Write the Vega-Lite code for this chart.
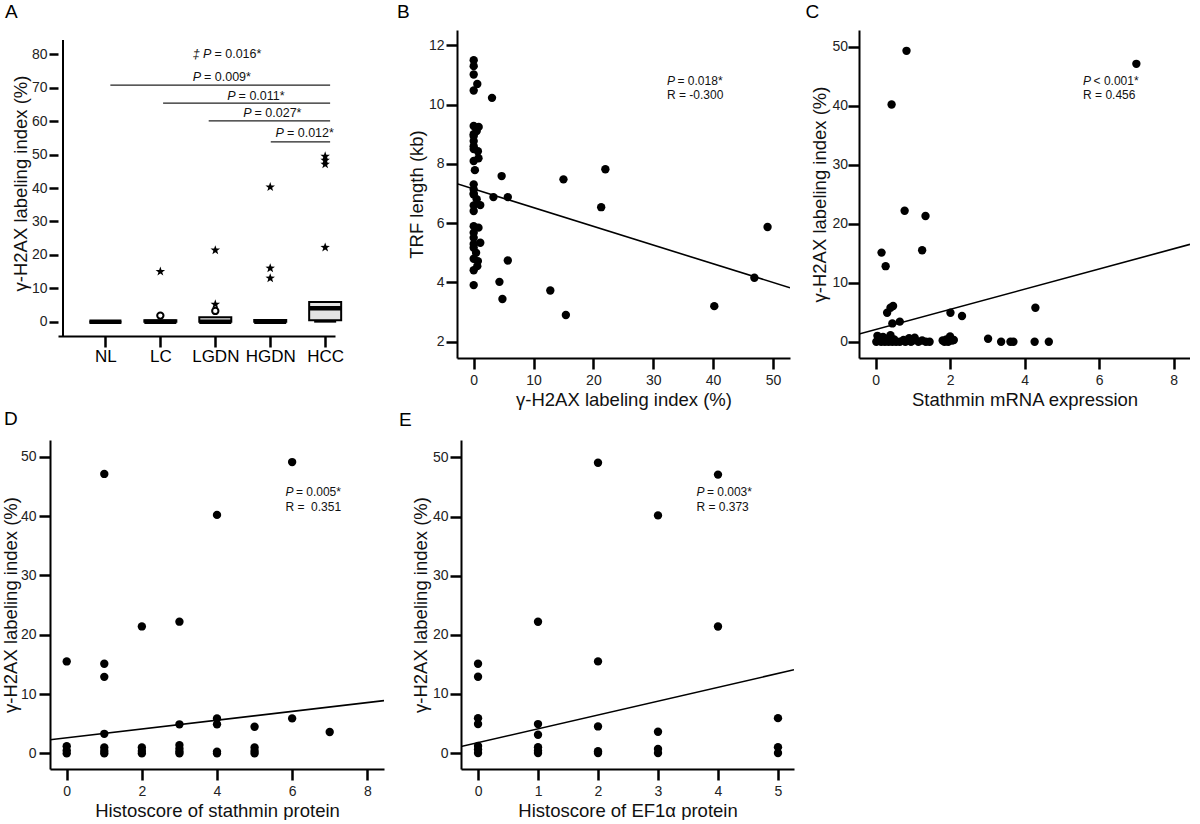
{
  "$schema": "https://vega.github.io/schema/vega-lite/v6.json",
  "background": "white",
  "padding": {"left": 1, "top": 3, "right": 0, "bottom": 0},
  "spacing": 1,
  "config": {
    "font": "Liberation Sans",
    "view": {"stroke": null},
    "axis": {
      "domainColor": "black", "domainWidth": 2,
      "tickColor": "black", "tickWidth": 2.5, "tickSize": 11,
      "labelFont": "Liberation Sans", "labelFontSize": 14, "labelColor": "#222",
      "titleFont": "Liberation Sans", "titleFontSize": 18.5, "titleFontWeight": "normal", "titleColor": "#111",
      "grid": false, "labelOverlap": false, "labelFlush": false
    },
    "axisY": {"labelPadding": 2, "titlePadding": 2},
    "axisX": {"labelPadding": 4, "titlePadding": 3},
    "title": {"anchor": "start", "frame": "group", "fontSize": 19, "fontWeight": "normal", "font": "Liberation Sans", "color": "black", "baseline": "alphabetic"}
  },
  "datasets": {
    "boxA": [
      {"g": 1, "group": "NL", "q1": 0, "med": 0, "q3": 0, "lo": 0, "hi": 0},
      {"g": 2, "group": "LC", "q1": 0, "med": 0, "q3": 0.4, "lo": 0, "hi": 0.5},
      {"g": 3, "group": "LGDN", "q1": 0, "med": 0, "q3": 1.3, "lo": 0, "hi": 1.3},
      {"g": 4, "group": "HGDN", "q1": 0, "med": 0, "q3": 0.5, "lo": 0, "hi": 0.5},
      {"g": 5, "group": "HCC", "q1": 0.4, "med": 4.0, "q3": 5.9, "lo": 0, "hi": 5.9}
    ],
    "outA": [
      {"g": 2, "v": 1.8, "kind": "circle"}, {"g": 2, "v": 15.0, "kind": "star"},
      {"g": 3, "v": 3.2, "kind": "circle"}, {"g": 3, "v": 5.2, "kind": "star"}, {"g": 3, "v": 21.4, "kind": "star"},
      {"g": 4, "v": 13.0, "kind": "star"}, {"g": 4, "v": 16.0, "kind": "star"}, {"g": 4, "v": 40.3, "kind": "star"},
      {"g": 5, "v": 22.2, "kind": "star"}, {"g": 5, "v": 47.1, "kind": "star"}, {"g": 5, "v": 48.3, "kind": "star"}, {"g": 5, "v": 49.5, "kind": "star"}
    ],
    "sigA": [
      {"x": 1.09, "x2": 5.09, "y": 70.8},
      {"x": 2.05, "x2": 5.09, "y": 65.4},
      {"x": 2.88, "x2": 5.09, "y": 60.1},
      {"x": 4.01, "x2": 5.09, "y": 53.8}
    ],
    "annA": [
      {"x": 2.93, "y": 80.1, "p": "‡ P", "t": "= 0.016*"},
      {"x": 2.74, "y": 73.3, "p": "P", "t": "= 0.009*"},
      {"x": 3.37, "y": 67.6, "p": "P", "t": "= 0.011*"},
      {"x": 3.66, "y": 62.6, "p": "P", "t": "= 0.027*"},
      {"x": 4.25, "y": 56.6, "p": "P", "t": "= 0.012*"}
    ],
    "ptsB": [
      {"x": 0, "y": 11.5}, {"x": 0, "y": 11.3}, {"x": 0, "y": 11.02}, {"x": 0.6, "y": 10.7}, {"x": 0, "y": 10.48},
      {"x": 0, "y": 9.28}, {"x": 0.83, "y": 9.25}, {"x": 0.5, "y": 9.11}, {"x": 0, "y": 9.0}, {"x": 0, "y": 8.94}, {"x": 0, "y": 8.77},
      {"x": 0, "y": 8.6}, {"x": 0, "y": 8.5}, {"x": 0.7, "y": 8.43}, {"x": 0.8, "y": 8.19}, {"x": 0, "y": 8.1}, {"x": 0.2, "y": 7.79},
      {"x": 0, "y": 7.31}, {"x": 0, "y": 7.14}, {"x": 0, "y": 7.0}, {"x": 0, "y": 6.97}, {"x": 0.5, "y": 6.81}, {"x": 1.1, "y": 6.61},
      {"x": 0, "y": 6.6}, {"x": 0, "y": 6.41},
      {"x": 0, "y": 5.9}, {"x": 0.8, "y": 5.85}, {"x": 0, "y": 5.68}, {"x": 0, "y": 5.51}, {"x": 1.1, "y": 5.34}, {"x": 0, "y": 5.3},
      {"x": 0, "y": 5.17}, {"x": 0.4, "y": 5.0}, {"x": 0, "y": 4.8}, {"x": 0.7, "y": 4.72}, {"x": 0.6, "y": 4.55}, {"x": 0, "y": 4.41}, {"x": 0, "y": 3.91},
      {"x": 3.06, "y": 10.23}, {"x": 4.67, "y": 7.59}, {"x": 3.3, "y": 6.88}, {"x": 5.7, "y": 6.88}, {"x": 5.7, "y": 4.74},
      {"x": 4.3, "y": 4.02}, {"x": 4.8, "y": 3.44}, {"x": 15.0, "y": 7.48}, {"x": 12.8, "y": 3.73}, {"x": 15.4, "y": 2.9},
      {"x": 22.0, "y": 7.82}, {"x": 21.3, "y": 6.54}, {"x": 40.2, "y": 3.2}, {"x": 46.9, "y": 4.16}, {"x": 49.1, "y": 5.87}
    ],
    "lineB": [{"x": -2.79, "y": 7.33}, {"x": 52.85, "y": 3.82}],
    "annB": [{"x": 32.3, "y": 10.8, "p": "P", "t": "= 0.018*", "ry": 10.32, "r": "R = -0.300"}],
    "ptsC": [
      {"x": 0.83, "y": 49.3}, {"x": 7.0, "y": 47.1}, {"x": 0.43, "y": 40.2}, {"x": 0.78, "y": 22.2}, {"x": 1.34, "y": 21.3},
      {"x": 0.16, "y": 15.1}, {"x": 1.25, "y": 15.5}, {"x": 0.27, "y": 12.8}, {"x": 0.4, "y": 5.76}, {"x": 0.47, "y": 6.05},
      {"x": 0.31, "y": 4.9}, {"x": 0.45, "y": 3.1}, {"x": 0.65, "y": 3.4}, {"x": 2.01, "y": 4.9}, {"x": 2.32, "y": 4.35},
      {"x": 4.29, "y": 5.76}, {"x": 3.02, "y": 0.5}, {"x": 3.37, "y": 0}, {"x": 3.62, "y": 0}, {"x": 3.7, "y": 0},
      {"x": 4.27, "y": 0}, {"x": 4.65, "y": 0},
      {"x": 0.02, "y": 0}, {"x": 0.05, "y": 1.0}, {"x": 0.1, "y": 0.3}, {"x": 0.15, "y": 0}, {"x": 0.2, "y": 0.8},
      {"x": 0.25, "y": 0}, {"x": 0.3, "y": 0.5}, {"x": 0.35, "y": 0}, {"x": 0.4, "y": 1.1}, {"x": 0.45, "y": 0},
      {"x": 0.5, "y": 0.4}, {"x": 0.55, "y": 0}, {"x": 0.65, "y": 0}, {"x": 0.75, "y": 0.3}, {"x": 0.8, "y": 0},
      {"x": 0.9, "y": 0.6}, {"x": 0.95, "y": 0}, {"x": 1.0, "y": 0.2}, {"x": 1.05, "y": 0.7}, {"x": 1.15, "y": 0},
      {"x": 1.25, "y": 0.2}, {"x": 1.35, "y": 0}, {"x": 1.45, "y": 0}, {"x": 1.8, "y": 0.2}, {"x": 1.85, "y": 0},
      {"x": 1.9, "y": 0.4}, {"x": 1.95, "y": 0}, {"x": 2.0, "y": 0.9}, {"x": 2.05, "y": 0.2}, {"x": 2.1, "y": 0.3}
    ],
    "lineC": [{"x": -0.445, "y": 1.3}, {"x": 8.44, "y": 16.5}],
    "annC": [{"x": 5.57, "y": 44.2, "p": "P", "t": "< 0.001*", "ry": 41.76, "r": "R = 0.456"}],
    "ptsD": [
      {"x": 0, "y": 15.5}, {"x": 0, "y": 1.2}, {"x": 0, "y": 0.5}, {"x": 0, "y": 0},
      {"x": 1, "y": 47.1}, {"x": 1, "y": 15.1}, {"x": 1, "y": 12.9}, {"x": 1, "y": 3.3}, {"x": 1, "y": 1.0}, {"x": 1, "y": 0.4}, {"x": 1, "y": 0},
      {"x": 2, "y": 21.4}, {"x": 2, "y": 1.0}, {"x": 2, "y": 0.4}, {"x": 2, "y": 0},
      {"x": 3, "y": 22.2}, {"x": 3, "y": 4.9}, {"x": 3, "y": 1.4}, {"x": 3, "y": 0.8}, {"x": 3, "y": 0.3}, {"x": 3, "y": 0},
      {"x": 4, "y": 40.2}, {"x": 4, "y": 5.9}, {"x": 4, "y": 4.9}, {"x": 4, "y": 0.3}, {"x": 4, "y": 0},
      {"x": 5, "y": 4.5}, {"x": 5, "y": 1.0}, {"x": 5, "y": 0.4}, {"x": 5, "y": 0},
      {"x": 6, "y": 49.1}, {"x": 6, "y": 5.9}, {"x": 7, "y": 3.6}
    ],
    "lineD": [{"x": -0.445, "y": 2.31}, {"x": 8.445, "y": 8.89}],
    "annD": [{"x": 5.82, "y": 44.0, "p": "P", "t": "= 0.005*", "ry": 41.5, "r": "R = \u00a00.351"}],
    "ptsE": [
      {"x": 0, "y": 15.1}, {"x": 0, "y": 12.9}, {"x": 0, "y": 5.9}, {"x": 0, "y": 4.9}, {"x": 0, "y": 1.2}, {"x": 0, "y": 0.6}, {"x": 0, "y": 0},
      {"x": 1, "y": 22.2}, {"x": 1, "y": 4.9}, {"x": 1, "y": 3.1}, {"x": 1, "y": 1.0}, {"x": 1, "y": 0.4}, {"x": 1, "y": 0},
      {"x": 2, "y": 49.1}, {"x": 2, "y": 15.5}, {"x": 2, "y": 4.5}, {"x": 2, "y": 0.3}, {"x": 2, "y": 0},
      {"x": 3, "y": 40.2}, {"x": 3, "y": 3.6}, {"x": 3, "y": 0.7}, {"x": 3, "y": 0},
      {"x": 4, "y": 47.1}, {"x": 4, "y": 21.4},
      {"x": 5, "y": 5.9}, {"x": 5, "y": 1.0}, {"x": 5, "y": 0}
    ],
    "lineE": [{"x": -0.284, "y": 1.1}, {"x": 5.267, "y": 14.08}],
    "annE": [{"x": 3.64, "y": 44.1, "p": "P", "t": "= 0.003*", "ry": 41.6, "r": "R = 0.373"}]
  },
  "vconcat": [
    {
      "hconcat": [
        {"width": 8, "height": 10, "data": {"values": []}, "mark": "rule", "encoding": {}},
        {
          "width": 277, "height": 306,
          "title": {"text": "A", "dx": -53, "offset": 8},
          "encoding": {
            "x": {"type": "quantitative", "scale": {"domain": [0.228, 5.088], "nice": false, "zero": false},
              "axis": {"values": [1, 2, 3, 4, 5], "tickCount": 5, "labelExpr": "datum.value == 1 ? 'NL' : datum.value == 2 ? 'LC' : datum.value == 3 ? 'LGDN' : datum.value == 4 ? 'HGDN' : 'HCC'", "title": null, "labelFontSize": 17, "labelColor": "black", "labelPadding": 1}},
            "y": {"type": "quantitative", "scale": {"domain": [-4.3, 87.3], "nice": false, "zero": false},
              "axis": {"values": [0, 10, 20, 30, 40, 50, 60, 70, 80], "tickCount": 9, "title": "γ-H2AX labeling index (%)", "tickSize": 9, "titlePadding": 1, "domain": false}}
          },
          "layer": [
            {
              "data": {"name": "sigA"},
              "mark": {"type": "rule", "color": "#222", "strokeWidth": 1.4},
              "encoding": {
                "x": {"field": "x"},
                "x2": {"field": "x2"},
                "y": {"field": "y"}
              }
            },
            {
              "data": {"values": [{"ax": 0.228, "ay": -4.3, "ay2": 84.3}]},
              "mark": {"type": "rule", "color": "black", "strokeWidth": 2},
              "encoding": {
                "x": {"field": "ax"},
                "y": {"field": "ay"},
                "y2": {"field": "ay2"}
              }
            },
            {
              "data": {"name": "annA"},
              "mark": {"type": "text", "align": "right", "baseline": "middle", "fontStyle": "italic", "fontSize": 12.5, "color": "#111"},
              "encoding": {
                "x": {"field": "x"},
                "y": {"field": "y"},
                "text": {"field": "p"}
              }
            },
            {
              "data": {"name": "annA"},
              "mark": {"type": "text", "align": "left", "baseline": "middle", "fontSize": 12.5, "color": "#111", "dx": 3},
              "encoding": {
                "x": {"field": "x"},
                "y": {"field": "y"},
                "text": {"field": "t"}
              }
            },
            {
              "data": {"name": "boxA"},
              "mark": {"type": "rule", "color": "black", "strokeWidth": 2},
              "encoding": {
                "x": {"field": "g"},
                "y": {"field": "lo"},
                "y2": {"field": "hi"}
              }
            },
            {
              "data": {"name": "boxA"},
              "mark": {"type": "tick", "orient": "horizontal", "size": 22, "thickness": 2, "color": "black", "opacity": 1},
              "encoding": {
                "x": {"field": "g"},
                "y": {"field": "lo"}
              }
            },
            {
              "data": {"name": "boxA"},
              "mark": {"type": "bar", "width": 32, "fill": "#e4e4e4", "stroke": "black", "strokeWidth": 2},
              "encoding": {
                "x": {"field": "g"},
                "y": {"field": "q1"},
                "y2": {"field": "q3"}
              }
            },
            {
              "data": {"name": "boxA"},
              "mark": {"type": "tick", "orient": "horizontal", "size": 32, "thickness": 4.5, "color": "black", "opacity": 1},
              "encoding": {
                "x": {"field": "g"},
                "y": {"field": "med"}
              }
            },
            {
              "data": {"name": "outA"},
              "transform": [{"filter": "datum.kind === 'circle'"}],
              "mark": {"type": "point", "shape": "circle", "fill": "white", "stroke": "black", "strokeWidth": 2, "size": 40, "opacity": 1},
              "encoding": {
                "x": {"field": "g"},
                "y": {"field": "v"}
              }
            },
            {
              "data": {"name": "outA"},
              "transform": [{"filter": "datum.kind === 'star'"}],
              "mark": {"type": "point", "shape": "M0,-1L0.235,-0.324L0.951,-0.309L0.38,0.124L0.588,0.809L0,0.4L-0.588,0.809L-0.38,0.124L-0.951,-0.309L-0.235,-0.324Z", "filled": true, "color": "black", "size": 100, "opacity": 1},
              "encoding": {
                "x": {"field": "g"},
                "y": {"field": "v"}
              }
            }
          ]
        },
        {"width": 122, "height": 10, "data": {"values": []}, "mark": "rule", "encoding": {}},
        {
          "width": 333, "height": 328,
          "title": {"text": "B", "dx": -60, "offset": 8},
          "layer": [
            {
              "data": {"name": "ptsB"},
              "mark": {"type": "circle", "size": 70, "color": "black", "opacity": 1},
              "encoding": {
                "x": {"field": "x", "type": "quantitative", "scale": {"domain": [-2.79, 52.85], "nice": false, "zero": false},
                  "axis": {"values": [0, 10, 20, 30, 40, 50], "title": "γ-H2AX labeling index (%)"}},
                "y": {"field": "y", "type": "quantitative", "scale": {"domain": [1.45, 12.52], "nice": false, "zero": false},
                  "axis": {"values": [2, 4, 6, 8, 10, 12], "title": "TRF length (kb)"}}
              }
            },
            {
              "data": {"name": "lineB"},
              "mark": {"type": "line", "color": "black", "strokeWidth": 1.6, "clip": true},
              "encoding": {"x": {"field": "x", "type": "quantitative"}, "y": {"field": "y", "type": "quantitative"}}
            },
            {
              "data": {"name": "annB"},
              "mark": {"type": "text", "align": "left", "baseline": "middle", "fontStyle": "italic", "fontSize": 12, "color": "#111"},
              "encoding": {"x": {"field": "x", "type": "quantitative"}, "y": {"field": "y", "type": "quantitative"}, "text": {"field": "p"}}
            },
            {
              "data": {"name": "annB"},
              "mark": {"type": "text", "align": "left", "baseline": "middle", "fontSize": 12, "color": "#111", "dx": 10.5},
              "encoding": {"x": {"field": "x", "type": "quantitative"}, "y": {"field": "y", "type": "quantitative"}, "text": {"field": "t"}}
            },
            {
              "data": {"name": "annB"},
              "mark": {"type": "text", "align": "left", "baseline": "middle", "fontSize": 12, "color": "#111"},
              "encoding": {"x": {"field": "x", "type": "quantitative"}, "y": {"field": "ry", "type": "quantitative"}, "text": {"field": "r"}}
            }
          ]
        },
        {"width": 69, "height": 10, "data": {"values": []}, "mark": "rule", "encoding": {}},
        {
          "width": 331, "height": 328,
          "title": {"text": "C", "dx": -53.4, "offset": 8},
          "layer": [
            {
              "data": {"name": "ptsC"},
              "mark": {"type": "circle", "size": 70, "color": "black", "opacity": 1},
              "encoding": {
                "x": {"field": "x", "type": "quantitative", "scale": {"domain": [-0.445, 8.44], "nice": false, "zero": false},
                  "axis": {"values": [0, 2, 4, 6, 8], "title": "Stathmin mRNA expression"}},
                "y": {"field": "y", "type": "quantitative", "scale": {"domain": [-2.76, 52.83], "nice": false, "zero": false},
                  "axis": {"values": [0, 10, 20, 30, 40, 50], "title": "γ-H2AX labeling index (%)", "labelPadding": 0.5}}
              }
            },
            {
              "data": {"name": "lineC"},
              "mark": {"type": "line", "color": "black", "strokeWidth": 1.6, "clip": true},
              "encoding": {"x": {"field": "x", "type": "quantitative"}, "y": {"field": "y", "type": "quantitative"}}
            },
            {
              "data": {"name": "annC"},
              "mark": {"type": "text", "align": "left", "baseline": "middle", "fontStyle": "italic", "fontSize": 12, "color": "#111"},
              "encoding": {"x": {"field": "x", "type": "quantitative"}, "y": {"field": "y", "type": "quantitative"}, "text": {"field": "p"}}
            },
            {
              "data": {"name": "annC"},
              "mark": {"type": "text", "align": "left", "baseline": "middle", "fontSize": 12, "color": "#111", "dx": 10.5},
              "encoding": {"x": {"field": "x", "type": "quantitative"}, "y": {"field": "y", "type": "quantitative"}, "text": {"field": "t"}}
            },
            {
              "data": {"name": "annC"},
              "mark": {"type": "text", "align": "left", "baseline": "middle", "fontSize": 12, "color": "#111"},
              "encoding": {"x": {"field": "x", "type": "quantitative"}, "y": {"field": "ry", "type": "quantitative"}, "text": {"field": "r"}}
            }
          ]
        }
      ],
      "spacing": 0,
      "bounds": "flush"
    },
    {
      "hconcat": [
        {
          "width": 334, "height": 329,
          "title": {"text": "D", "dx": -46, "offset": 11},
          "layer": [
            {
              "data": {"name": "ptsD"},
              "mark": {"type": "circle", "size": 70, "color": "black", "opacity": 1},
              "encoding": {
                "x": {"field": "x", "type": "quantitative", "scale": {"domain": [-0.445, 8.445], "nice": false, "zero": false},
                  "axis": {"values": [0, 2, 4, 6, 8], "title": "Histoscore of stathmin protein"}},
                "y": {"field": "y", "type": "quantitative", "scale": {"domain": [-2.63, 52.82], "nice": false, "zero": false},
                  "axis": {"values": [0, 10, 20, 30, 40, 50], "title": "γ-H2AX labeling index (%)", "labelPadding": 3, "titlePadding": 0}}
              }
            },
            {
              "data": {"name": "lineD"},
              "mark": {"type": "line", "color": "black", "strokeWidth": 1.6, "clip": true},
              "encoding": {"x": {"field": "x", "type": "quantitative"}, "y": {"field": "y", "type": "quantitative"}}
            },
            {
              "data": {"name": "annD"},
              "mark": {"type": "text", "align": "left", "baseline": "middle", "fontStyle": "italic", "fontSize": 12, "color": "#111"},
              "encoding": {"x": {"field": "x", "type": "quantitative"}, "y": {"field": "y", "type": "quantitative"}, "text": {"field": "p"}}
            },
            {
              "data": {"name": "annD"},
              "mark": {"type": "text", "align": "left", "baseline": "middle", "fontSize": 12, "color": "#111", "dx": 10.5},
              "encoding": {"x": {"field": "x", "type": "quantitative"}, "y": {"field": "y", "type": "quantitative"}, "text": {"field": "t"}}
            },
            {
              "data": {"name": "annD"},
              "mark": {"type": "text", "align": "left", "baseline": "middle", "fontSize": 12, "color": "#111"},
              "encoding": {"x": {"field": "x", "type": "quantitative"}, "y": {"field": "ry", "type": "quantitative"}, "text": {"field": "r"}}
            }
          ]
        },
        {"width": 77, "height": 10, "data": {"values": []}, "mark": "rule", "encoding": {}},
        {
          "width": 333, "height": 329,
          "title": {"text": "E", "dx": -62, "offset": 10},
          "layer": [
            {
              "data": {"name": "ptsE"},
              "mark": {"type": "circle", "size": 70, "color": "black", "opacity": 1},
              "encoding": {
                "x": {"field": "x", "type": "quantitative", "scale": {"domain": [-0.284, 5.267], "nice": false, "zero": false},
                  "axis": {"values": [0, 1, 2, 3, 4, 5], "format": "d", "title": "Histoscore of EF1α protein"}},
                "y": {"field": "y", "type": "quantitative", "scale": {"domain": [-2.7, 52.95], "nice": false, "zero": false},
                  "axis": {"values": [0, 10, 20, 30, 40, 50], "title": "γ-H2AX labeling index (%)"}}
              }
            },
            {
              "data": {"name": "lineE"},
              "mark": {"type": "line", "color": "black", "strokeWidth": 1.6, "clip": true},
              "encoding": {"x": {"field": "x", "type": "quantitative"}, "y": {"field": "y", "type": "quantitative"}}
            },
            {
              "data": {"name": "annE"},
              "mark": {"type": "text", "align": "left", "baseline": "middle", "fontStyle": "italic", "fontSize": 12, "color": "#111"},
              "encoding": {"x": {"field": "x", "type": "quantitative"}, "y": {"field": "y", "type": "quantitative"}, "text": {"field": "p"}}
            },
            {
              "data": {"name": "annE"},
              "mark": {"type": "text", "align": "left", "baseline": "middle", "fontSize": 12, "color": "#111", "dx": 10.5},
              "encoding": {"x": {"field": "x", "type": "quantitative"}, "y": {"field": "y", "type": "quantitative"}, "text": {"field": "t"}}
            },
            {
              "data": {"name": "annE"},
              "mark": {"type": "text", "align": "left", "baseline": "middle", "fontSize": 12, "color": "#111"},
              "encoding": {"x": {"field": "x", "type": "quantitative"}, "y": {"field": "ry", "type": "quantitative"}, "text": {"field": "r"}}
            }
          ]
        }
      ],
      "spacing": 0,
      "bounds": "flush"
    }
  ]
}
